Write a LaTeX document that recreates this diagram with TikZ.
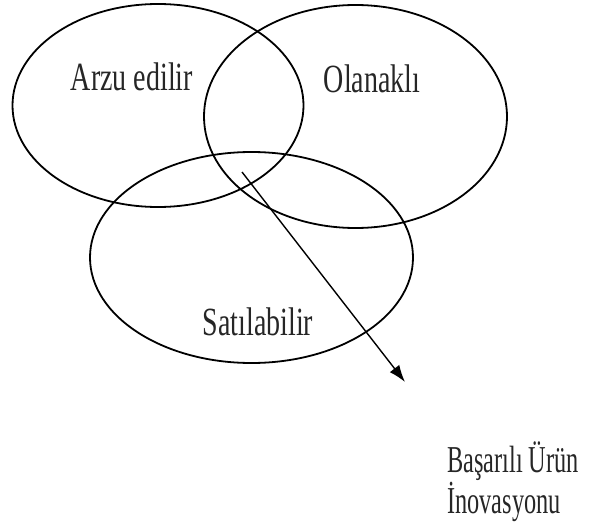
\documentclass[tikz,border=0pt]{standalone}
\usepackage{fontspec}
\newfontfamily\lblfont[FakeStretch=0.70]{Liberation Serif}
\newfontfamily\notefont[FakeStretch=0.64]{Liberation Serif}
\usetikzlibrary{arrows.meta}
\begin{document}
\begin{tikzpicture}[x=1pt,y=-1pt,
  venn/.style={draw=black,line width=1.8pt},
  lbl/.style={font=\lblfont\fontsize{40}{44}\selectfont,text=black!85,inner sep=0pt},
  note/.style={font=\notefont\fontsize{38}{42}\selectfont,text=black!85,inner sep=0pt},
  flow/.style={draw=black,line width=1.4pt,-{Latex[length=17pt,width=12pt]}}]
\useasboundingbox (0,0) rectangle (603,522);
\draw[venn] (158,105.5) ellipse [x radius=145.5, y radius=101.5];
\draw[venn] (355.5,116.5) ellipse [x radius=151.5, y radius=111.5];
\draw[venn] (251.5,257.5) ellipse [x radius=161.5, y radius=105.5];
\node[lbl,anchor=base] (arzu) at (132,90) {Arzu edilir};
\node[lbl,anchor=base] (olan) at (372,92) {Olanaklı};
\node[lbl,anchor=base] (sat) at (258,335) {Satılabilir};
\node[note,anchor=base west] (bas) at (447,472) {Başarılı Ürün};
\node[note,anchor=base west] (ino) at (447,513) {İnovasyonu};
\coordinate (s) at (242,172);
\coordinate (t) at (405,382);
\draw[flow] (s) -- (t);
\end{tikzpicture}
\end{document}
